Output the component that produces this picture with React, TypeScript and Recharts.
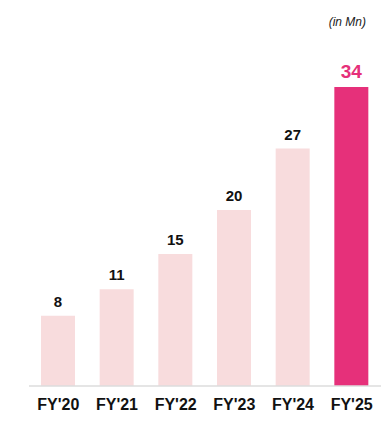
import { BarChart, Bar, XAxis, YAxis, Cell, LabelList } from "recharts";

const YEARS = ["FY'20", "FY'21", "FY'22", "FY'23", "FY'24", "FY'25"];
const VALUES = [8, 11, 15, 20, 27, 34];
const HIGHLIGHT = "FY'25";

const FONT = "'Liberation Sans', Arial, sans-serif";

const chartData = YEARS.map((name, i) => ({ name, value: VALUES[i] }));

function ValueLabel(props: any) {
  const { x, y, width, value, index } = props;
  const hi = YEARS[index] === HIGHLIGHT;
  return (
    <text
      x={x + width / 2}
      y={y - 9}
      textAnchor="middle"
      fontFamily={FONT}
      fontWeight="bold"
      fontSize={hi ? 19 : 15}
      fill={hi ? "#e6307a" : "#111"}
    >
      {value}
    </text>
  );
}

export default function App() {
  return (
    <div style={{ position: "absolute", left: 0, top: 0, width: 389, height: 421, background: "#fff" }}>
      <div
        style={{
          position: "absolute",
          right: 23,
          top: 15,
          fontFamily: FONT,
          fontStyle: "italic",
          fontSize: 12,
          color: "#222",
        }}
      >
        (in Mn)
      </div>
      <BarChart width={389} height={421} data={chartData} margin={{ top: 87, right: 8, left: 29, bottom: 0 }} barSize={34}>
        <YAxis hide domain={[0, 34]} />
        <XAxis
          dataKey="name"
          height={35}
          axisLine={{ stroke: "#dcdcdc", strokeWidth: 1.5 }}
          tickLine={false}
          tickMargin={7}
          tick={{ fill: "#111", fontSize: 16, fontWeight: "bold", fontFamily: FONT }}
        />
        <Bar dataKey="value" isAnimationActive={false}>
          {chartData.map((d, i) => (
            <Cell key={i} fill={d.name === HIGHLIGHT ? "#e6307a" : "#f8dcdd"} />
          ))}
          <LabelList dataKey="value" content={ValueLabel} />
        </Bar>
      </BarChart>
    </div>
  );
}
